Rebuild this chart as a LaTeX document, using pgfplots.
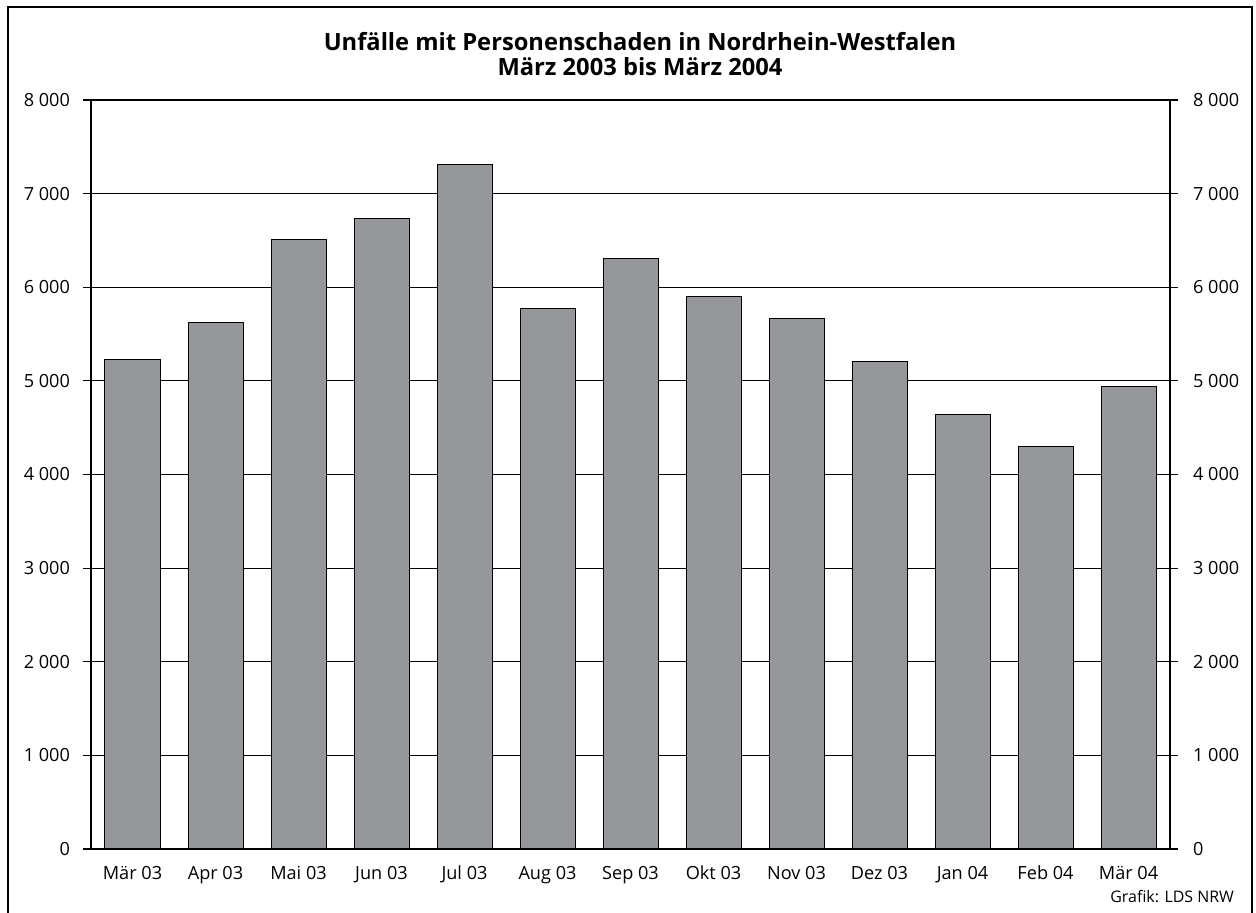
\documentclass[border=0pt]{standalone}
\usepackage{pgfplots}
\pgfplotsset{compat=1.18}
\usepackage{fontspec}
\setmainfont{Open Sans}
\definecolor{bargray}{RGB}{150,151,155}
\begin{document}
\begin{tikzpicture}[x=1bp,y=1bp]
\useasboundingbox (-45.5,-32) rectangle (582.5,424.5);
\draw[line width=1.2bp] (-41.5,-40) -- (-41.5,421) -- (580.5,421) -- (580.5,-40);
\pgfplotsset{
  common/.style={
    at={(0,0)}, anchor=south west,
    width=539.5bp, height=374.5bp, scale only axis,
    ymin=0, ymax=8000,
    xmin=-0.5, xmax=12.5,
    ytick={0,1000,...,8000},
    /pgf/number format/.cd, 1000 sep={\ }, assume math mode=true,
    /pgfplots/.cd,
    tick align=outside,
    major tick length=4bp,
    tick style={black, line width=0.6bp},
    axis line style={line width=0.6bp},
    ticklabel style={font=\fontsize{9.1}{10}\selectfont},
    scaled y ticks=false,
  }
}
\begin{axis}[common,
  axis x line*=bottom, axis y line*=left,
  ymajorgrids, grid style={black, line width=0.6bp},
  xtick=data,
  xticklabels={Mär 03,Apr 03,Mai 03,Jun 03,Jul 03,Aug 03,Sep 03,Okt 03,Nov 03,Dez 03,Jan 04,Feb 04,Mär 04},
  xtick style={draw=none},
  xticklabel style={yshift=-1bp},
  yticklabel style={xshift=-3bp},
  ybar, bar width=27.5bp,
]
\addplot[fill=bargray, draw=black, line width=0.5bp] coordinates {
(0,5223) (1,5618) (2,6505) (3,6729) (4,7306) (5,5768) (6,6312)
(7,5896) (8,5661) (9,5202) (10,4636) (11,4294) (12,4935)};
\end{axis}
\begin{axis}[common,
  axis x line=none, axis y line*=right,
  yticklabel style={xshift=4bp},
]
\addplot[draw=none] coordinates {(0,0)};
\end{axis}
\node[font=\fontsize{11.9}{12.8}\selectfont\bfseries, align=center] at (274.5,397.5) {Unfälle mit Personenschaden in Nordrhein-Westfalen\\März 2003 bis März 2004};
\node[font=\fontsize{8}{9}\selectfont, anchor=east] at (575,-24) {Grafik: LDS NRW};
\end{tikzpicture}
\end{document}
